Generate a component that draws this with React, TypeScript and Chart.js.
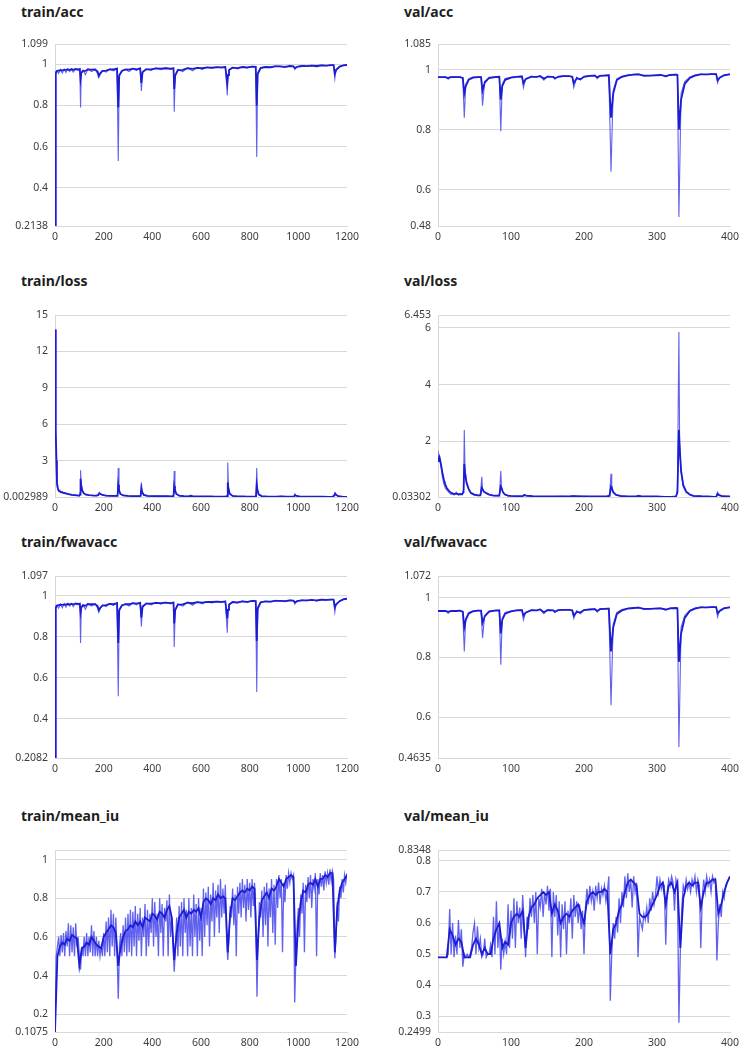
import React, { useEffect, useRef } from "react";
import { Chart, registerables } from "chart.js";

Chart.register(...registerables);

// ---------------- data ----------------
// shared iteration positions for train acc / fwavacc
const trainSteps = [
  0, 2, 4, 8, 15, 22, 30, 38, 45, 52,
  60, 68, 75, 85, 95, 102, 105, 108, 115, 125,
  135, 150, 165, 175, 180, 185, 195, 210, 225, 240,
  255, 260, 264, 275, 290, 305, 320, 335, 350, 355,
  360, 375, 395, 415, 435, 455, 475, 487, 490, 494,
  505, 525, 545, 565, 585, 605, 625, 645, 665, 685,
  700, 708, 711, 715, 730, 750, 770, 790, 810, 825,
  829, 833, 845, 865, 885, 905, 925, 945, 965, 980,
  986, 995, 1015, 1035, 1055, 1075, 1095, 1115, 1135, 1145,
  1150, 1155, 1170, 1185, 1200,
];

const trainAccRaw = [
  0.2138, 0.92, 0.965, 0.97, 0.955, 0.975, 0.958, 0.976, 0.96, 0.978,
  0.965, 0.978, 0.962, 0.98, 0.97, 0.978, 0.79, 0.96, 0.972, 0.95,
  0.978, 0.965, 0.975, 0.955, 0.935, 0.95, 0.97, 0.962, 0.978, 0.968,
  0.98, 0.53, 0.95, 0.97, 0.975, 0.965, 0.98, 0.97, 0.982, 0.87,
  0.965, 0.978, 0.97, 0.982, 0.974, 0.983, 0.975, 0.982, 0.77, 0.95,
  0.975, 0.965, 0.983, 0.968, 0.985, 0.975, 0.986, 0.98, 0.987, 0.982,
  0.988, 0.85, 0.95, 0.975, 0.985, 0.978, 0.988, 0.982, 0.99, 0.988,
  0.55, 0.96, 0.985, 0.988, 0.984, 0.992, 0.99, 0.985, 0.993, 0.99,
  0.975, 0.99, 0.993, 0.99, 0.995, 0.988, 0.996, 0.993, 0.997, 0.996,
  0.93, 0.975, 0.99, 0.996, 0.998,
];
const trainAccSmooth = [
  0.2138, 0.82, 0.955, 0.968, 0.97, 0.972, 0.971, 0.973, 0.973, 0.975,
  0.973, 0.976, 0.974, 0.977, 0.976, 0.977, 0.93, 0.958, 0.968, 0.968,
  0.975, 0.974, 0.975, 0.965, 0.945, 0.955, 0.968, 0.97, 0.976, 0.975,
  0.979, 0.79, 0.945, 0.968, 0.975, 0.974, 0.979, 0.976, 0.98, 0.91,
  0.962, 0.976, 0.976, 0.98, 0.979, 0.981, 0.979, 0.981, 0.88, 0.945,
  0.972, 0.973, 0.981, 0.978, 0.983, 0.981, 0.985, 0.984, 0.986, 0.985,
  0.987, 0.91, 0.948, 0.972, 0.984, 0.982, 0.987, 0.985, 0.989, 0.988,
  0.8, 0.952, 0.982, 0.987, 0.986, 0.99, 0.99, 0.988, 0.992, 0.99,
  0.982, 0.988, 0.992, 0.991, 0.994, 0.992, 0.995, 0.994, 0.996, 0.996,
  0.955, 0.972, 0.989, 0.995, 0.997,
];

const trainFwRaw = [
  0.2082, 0.9, 0.95, 0.955, 0.94, 0.96, 0.942, 0.962, 0.945, 0.963,
  0.95, 0.963, 0.947, 0.965, 0.955, 0.963, 0.77, 0.945, 0.957, 0.935,
  0.963, 0.95, 0.96, 0.94, 0.92, 0.935, 0.955, 0.947, 0.963, 0.953,
  0.966, 0.51, 0.935, 0.955, 0.96, 0.95, 0.966, 0.956, 0.968, 0.85,
  0.95, 0.964, 0.956, 0.968, 0.96, 0.969, 0.961, 0.968, 0.75, 0.935,
  0.96, 0.95, 0.969, 0.954, 0.971, 0.961, 0.972, 0.966, 0.973, 0.968,
  0.974, 0.82, 0.935, 0.96, 0.971, 0.964, 0.974, 0.968, 0.976, 0.974,
  0.53, 0.945, 0.971, 0.974, 0.97, 0.978, 0.976, 0.971, 0.979, 0.976,
  0.96, 0.976, 0.979, 0.976, 0.981, 0.974, 0.982, 0.979, 0.983, 0.982,
  0.92, 0.96, 0.976, 0.984, 0.988,
];
const trainFwSmooth = [
  0.2082, 0.8, 0.94, 0.952, 0.955, 0.957, 0.956, 0.958, 0.957, 0.96,
  0.958, 0.961, 0.959, 0.962, 0.961, 0.962, 0.92, 0.942, 0.954, 0.952,
  0.96, 0.959, 0.96, 0.95, 0.93, 0.94, 0.953, 0.955, 0.961, 0.96,
  0.964, 0.77, 0.93, 0.953, 0.96, 0.959, 0.964, 0.962, 0.966, 0.895,
  0.947, 0.962, 0.962, 0.966, 0.965, 0.967, 0.965, 0.967, 0.865, 0.93,
  0.957, 0.958, 0.967, 0.964, 0.969, 0.967, 0.971, 0.97, 0.972, 0.971,
  0.973, 0.89, 0.932, 0.956, 0.97, 0.968, 0.973, 0.971, 0.975, 0.974,
  0.78, 0.937, 0.968, 0.973, 0.972, 0.976, 0.976, 0.974, 0.978, 0.977,
  0.968, 0.974, 0.978, 0.978, 0.98, 0.978, 0.981, 0.98, 0.982, 0.982,
  0.945, 0.958, 0.974, 0.983, 0.986,
];

// shared epoch positions for val acc / fwavacc
const valSteps = [
  0, 5, 10, 14, 16, 20, 25, 30, 34, 36,
  38, 42, 48, 55, 59, 61, 64, 70, 78, 84,
  86, 88, 92, 100, 108, 115, 117, 120, 128, 135,
  140, 145, 150, 158, 160, 165, 172, 180, 184, 186,
  190, 195, 200, 208, 215, 218, 222, 228, 234, 237,
  240, 245, 252, 260, 268, 275, 282, 290, 298, 305,
  312, 318, 326, 328, 330, 333, 338, 345, 352, 360,
  368, 375, 381, 383, 386, 392, 400,
];

const valAccRaw = [
  0.975, 0.974, 0.976, 0.968, 0.975, 0.976, 0.975, 0.976, 0.97, 0.84,
  0.95, 0.97, 0.975, 0.976, 0.975, 0.88, 0.96, 0.974, 0.976, 0.977,
  0.795, 0.95, 0.97, 0.974, 0.977, 0.978, 0.94, 0.97, 0.978, 0.975,
  0.98, 0.965, 0.978, 0.976, 0.968, 0.978, 0.979, 0.978, 0.975, 0.94,
  0.975, 0.965, 0.978, 0.98, 0.981, 0.97, 0.98, 0.981, 0.982, 0.66,
  0.93, 0.97, 0.978, 0.982, 0.984, 0.985, 0.978, 0.98, 0.982, 0.983,
  0.976, 0.983, 0.984, 0.982, 0.51, 0.92, 0.96, 0.975, 0.982, 0.985,
  0.983, 0.986, 0.985, 0.955, 0.975, 0.983, 0.985,
];
const valAccSmooth = [
  0.975, 0.975, 0.975, 0.972, 0.974, 0.975, 0.975, 0.975, 0.972, 0.92,
  0.945, 0.966, 0.973, 0.975, 0.975, 0.93, 0.957, 0.972, 0.975, 0.976,
  0.9, 0.945, 0.966, 0.973, 0.976, 0.977, 0.955, 0.968, 0.976, 0.976,
  0.978, 0.97, 0.976, 0.976, 0.971, 0.976, 0.978, 0.978, 0.976, 0.955,
  0.971, 0.968, 0.976, 0.979, 0.98, 0.974, 0.979, 0.98, 0.981, 0.84,
  0.92, 0.965, 0.976, 0.981, 0.983, 0.984, 0.98, 0.98, 0.981, 0.982,
  0.978, 0.982, 0.983, 0.982, 0.8, 0.9, 0.952, 0.972, 0.98, 0.984,
  0.984, 0.985, 0.985, 0.965, 0.973, 0.981, 0.984,
];

const valFwRaw = [
  0.955, 0.954, 0.956, 0.947, 0.955, 0.956, 0.955, 0.957, 0.95, 0.82,
  0.93, 0.95, 0.956, 0.957, 0.956, 0.865, 0.94, 0.955, 0.957, 0.958,
  0.775, 0.93, 0.95, 0.955, 0.958, 0.959, 0.925, 0.95, 0.959, 0.956,
  0.961, 0.946, 0.959, 0.957, 0.95, 0.959, 0.96, 0.959, 0.956, 0.93,
  0.956, 0.946, 0.959, 0.961, 0.962, 0.951, 0.962, 0.963, 0.964, 0.64,
  0.91, 0.95, 0.96, 0.964, 0.966, 0.967, 0.96, 0.962, 0.964, 0.965,
  0.958, 0.965, 0.966, 0.964, 0.5, 0.9, 0.94, 0.958, 0.965, 0.968,
  0.966, 0.969, 0.968, 0.935, 0.958, 0.966, 0.968,
];
const valFwSmooth = [
  0.955, 0.955, 0.955, 0.952, 0.954, 0.955, 0.955, 0.956, 0.953, 0.9,
  0.925, 0.946, 0.954, 0.956, 0.956, 0.915, 0.937, 0.953, 0.956, 0.957,
  0.88, 0.925, 0.946, 0.954, 0.957, 0.958, 0.94, 0.949, 0.958, 0.957,
  0.96, 0.951, 0.958, 0.957, 0.953, 0.958, 0.959, 0.959, 0.957, 0.94,
  0.952, 0.95, 0.958, 0.96, 0.961, 0.955, 0.961, 0.962, 0.963, 0.82,
  0.9, 0.945, 0.957, 0.963, 0.965, 0.966, 0.962, 0.962, 0.963, 0.964,
  0.96, 0.964, 0.965, 0.964, 0.785, 0.88, 0.932, 0.955, 0.963, 0.967,
  0.967, 0.968, 0.968, 0.948, 0.955, 0.964, 0.967,
];

// train loss
const trainLossSteps = [
  0, 2, 4, 6, 8, 12, 16, 20, 25, 30,
  35, 40, 45, 50, 55, 60, 70, 80, 90, 100,
  103, 105, 108, 112, 118, 125, 140, 155, 170, 178,
  182, 186, 195, 210, 230, 250, 257, 260, 263, 268,
  280, 300, 320, 340, 352, 355, 358, 365, 380, 400,
  420, 440, 460, 480, 487, 490, 493, 498, 510, 530,
  550, 558, 565, 580, 600, 620, 640, 660, 680, 700,
  707, 710, 713, 718, 730, 750, 770, 790, 810, 826,
  829, 832, 837, 850, 870, 890, 910, 930, 950, 970,
  982, 986, 992, 1005, 1025, 1050, 1075, 1100, 1125, 1140,
  1147, 1151, 1156, 1165, 1180, 1200,
];
const trainLossRaw = [
  13.8, 8.5, 5, 2, 0.9, 0.6, 0.45, 0.55, 0.35, 0.45,
  0.3, 0.38, 0.25, 0.3, 0.2, 0.25, 0.15, 0.18, 0.12, 0.1,
  0.4, 2.2, 0.9, 0.5, 0.3, 0.2, 0.15, 0.12, 0.12, 0.2,
  0.38, 0.25, 0.15, 0.1, 0.09, 0.08, 0.1, 2.4, 0.6, 0.25,
  0.12, 0.08, 0.07, 0.08, 0.1, 1.2, 0.4, 0.15, 0.08, 0.07,
  0.08, 0.06, 0.07, 0.06, 0.1, 2.15, 0.6, 0.25, 0.1, 0.06,
  0.06, 0.15, 0.06, 0.05, 0.05, 0.04, 0.05, 0.04, 0.04, 0.05,
  0.1, 2.85, 0.7, 0.25, 0.08, 0.05, 0.04, 0.04, 0.03, 0.05,
  2.4, 0.6, 0.2, 0.06, 0.04, 0.03, 0.04, 0.06, 0.03, 0.03,
  0.05, 0.25, 0.08, 0.04, 0.03, 0.03, 0.04, 0.02, 0.02, 0.03,
  0.15, 0.35, 0.15, 0.05, 0.02, 0.02,
];
const trainLossSmooth = [
  13.8, 9.5, 5.5, 3, 1.2, 0.7, 0.5, 0.45, 0.4, 0.38,
  0.35, 0.33, 0.3, 0.27, 0.24, 0.22, 0.18, 0.16, 0.14, 0.12,
  0.2, 1.5, 0.95, 0.55, 0.32, 0.22, 0.16, 0.13, 0.12, 0.15,
  0.3, 0.27, 0.17, 0.11, 0.1, 0.09, 0.09, 1, 0.6, 0.27,
  0.13, 0.09, 0.08, 0.08, 0.09, 0.7, 0.42, 0.17, 0.09, 0.08,
  0.07, 0.07, 0.07, 0.06, 0.08, 0.9, 0.6, 0.27, 0.11, 0.07,
  0.06, 0.1, 0.07, 0.06, 0.05, 0.05, 0.05, 0.04, 0.04, 0.04,
  0.08, 1.2, 0.7, 0.27, 0.09, 0.06, 0.05, 0.04, 0.04, 0.04,
  1, 0.6, 0.22, 0.07, 0.05, 0.04, 0.04, 0.05, 0.04, 0.03,
  0.04, 0.15, 0.09, 0.05, 0.04, 0.03, 0.03, 0.03, 0.02, 0.02,
  0.1, 0.28, 0.17, 0.07, 0.03, 0.02,
];

// val loss
const valLossSteps = [
  0, 1, 2, 4, 6, 8, 10, 12, 15, 18,
  20, 22, 25, 28, 30, 33, 35, 36, 37, 39,
  42, 45, 50, 55, 58, 60, 61, 63, 66, 70,
  75, 80, 84, 86, 87, 89, 92, 96, 100, 110,
  116, 118, 121, 130, 140, 150, 160, 170, 180, 185,
  190, 200, 210, 220, 230, 235, 237, 238, 240, 244,
  250, 260, 270, 275, 280, 290, 300, 310, 320, 326,
  328, 330, 331, 333, 336, 340, 345, 350, 360, 363,
  370, 378, 381, 383, 385, 390, 400,
];
const valLossRaw = [
  1.3, 1.55, 1.45, 1.1, 0.75, 0.5, 0.35, 0.28, 0.2, 0.12,
  0.18, 0.1, 0.2, 0.1, 0.15, 0.12, 0.3, 2.4, 1, 0.5,
  0.3, 0.15, 0.1, 0.08, 0.1, 0.75, 0.35, 0.2, 0.18, 0.12,
  0.08, 0.07, 0.08, 0.95, 0.4, 0.2, 0.1, 0.07, 0.06, 0.05,
  0.06, 0.12, 0.07, 0.05, 0.05, 0.05, 0.05, 0.06, 0.05, 0.08,
  0.05, 0.06, 0.05, 0.05, 0.05, 0.1, 0.85, 0.4, 0.2, 0.1,
  0.06, 0.05, 0.05, 0.09, 0.05, 0.05, 0.04, 0.04, 0.05, 0.05,
  0.3, 5.85, 2, 0.9, 0.4, 0.2, 0.1, 0.06, 0.07, 0.05,
  0.04, 0.04, 0.05, 0.2, 0.1, 0.05, 0.04,
];
const valLossSmooth = [
  1.3, 1.4, 1.45, 1.2, 0.9, 0.65, 0.48, 0.35, 0.25, 0.18,
  0.15, 0.14, 0.15, 0.13, 0.13, 0.13, 0.2, 1.2, 0.9, 0.55,
  0.32, 0.18, 0.12, 0.09, 0.09, 0.35, 0.3, 0.22, 0.17, 0.12,
  0.09, 0.08, 0.08, 0.4, 0.35, 0.2, 0.12, 0.08, 0.07, 0.06,
  0.06, 0.1, 0.08, 0.06, 0.05, 0.05, 0.05, 0.05, 0.05, 0.06,
  0.06, 0.05, 0.05, 0.05, 0.05, 0.07, 0.4, 0.35, 0.2, 0.11,
  0.07, 0.05, 0.05, 0.07, 0.05, 0.05, 0.05, 0.04, 0.04, 0.05,
  0.2, 2.4, 1.8, 0.95, 0.45, 0.22, 0.12, 0.07, 0.06, 0.05,
  0.05, 0.04, 0.04, 0.14, 0.1, 0.06, 0.05,
];

// train mean_iu: raw every 5 iterations, smoothed every 10
const trainMiuRawStep = 5;
const trainMiuRaw = [
  0.1075,
  0.5, 0.55, 0.6, 0.5, 0.61, 0.52, 0.62, 0.5, 0.63, 0.55,
  0.67, 0.5, 0.66, 0.52, 0.65, 0.5, 0.67, 0.55, 0.6, 0.5,
  0.43, 0.55, 0.5, 0.6, 0.5, 0.62, 0.5, 0.6, 0.52, 0.66,
  0.5, 0.63, 0.5, 0.6, 0.5, 0.58, 0.5, 0.55, 0.5, 0.62,
  0.5, 0.68, 0.52, 0.7, 0.5, 0.74, 0.55, 0.72, 0.5, 0.7,
  0.52, 0.28, 0.55, 0.62, 0.5, 0.66, 0.52, 0.7, 0.5, 0.72,
  0.52, 0.74, 0.5, 0.73, 0.55, 0.76, 0.5, 0.72, 0.58, 0.75,
  0.5, 0.7, 0.6, 0.77, 0.5, 0.74, 0.55, 0.72, 0.62, 0.8,
  0.55, 0.78, 0.6, 0.72, 0.5, 0.8, 0.62, 0.77, 0.5, 0.75,
  0.68, 0.79, 0.5, 0.82, 0.6, 0.7, 0.55, 0.42, 0.55, 0.7,
  0.5, 0.76, 0.55, 0.78, 0.5, 0.8, 0.62, 0.74, 0.5, 0.8,
  0.55, 0.75, 0.5, 0.82, 0.6, 0.77, 0.5, 0.8, 0.58, 0.75,
  0.5, 0.85, 0.6, 0.83, 0.66, 0.86, 0.55, 0.82, 0.68, 0.88,
  0.6, 0.84, 0.7, 0.87, 0.62, 0.9, 0.7, 0.85, 0.72, 0.87,
  0.6, 0.48, 0.6, 0.76, 0.7, 0.85, 0.66, 0.82, 0.5, 0.86,
  0.72, 0.88, 0.7, 0.9, 0.75, 0.87, 0.68, 0.9, 0.74, 0.88,
  0.7, 0.9, 0.76, 0.88, 0.72, 0.29, 0.6, 0.78, 0.7, 0.84,
  0.6, 0.86, 0.66, 0.88, 0.55, 0.85, 0.7, 0.9, 0.62, 0.87,
  0.56, 0.9, 0.75, 0.92, 0.8, 0.9, 0.52, 0.88, 0.78, 0.92,
  0.85, 0.93, 0.88, 0.93, 0.9, 0.92, 0.26, 0.5, 0.65, 0.75,
  0.6, 0.82, 0.72, 0.88, 0.52, 0.87, 0.78, 0.91, 0.8, 0.92,
  0.75, 0.9, 0.85, 0.93, 0.5, 0.9, 0.82, 0.93, 0.86, 0.92,
  0.84, 0.94, 0.88, 0.93, 0.87, 0.95, 0.89, 0.94, 0.9, 0.49,
  0.6, 0.78, 0.68, 0.86, 0.8, 0.9, 0.83, 0.92, 0.88, 0.93,
];
const trainMiuSmoothStep = 10;
const trainMiuSmooth = [
  0.1075,
  0.5, 0.55, 0.57, 0.56, 0.59, 0.58, 0.61, 0.6, 0.59, 0.45,
  0.54, 0.55, 0.57, 0.56, 0.6, 0.58, 0.56, 0.55, 0.54, 0.6,
  0.62, 0.64, 0.66, 0.65, 0.62, 0.45, 0.55, 0.6, 0.63, 0.64,
  0.66, 0.65, 0.68, 0.66, 0.68, 0.65, 0.7, 0.69, 0.68, 0.72,
  0.71, 0.69, 0.73, 0.72, 0.7, 0.74, 0.76, 0.7, 0.48, 0.62,
  0.7, 0.72, 0.74, 0.7, 0.73, 0.72, 0.74, 0.73, 0.75, 0.7,
  0.78, 0.8, 0.79, 0.77, 0.8, 0.79, 0.82, 0.8, 0.81, 0.8,
  0.52, 0.72, 0.8, 0.79, 0.81, 0.83, 0.84, 0.83, 0.85, 0.84,
  0.86, 0.85, 0.48, 0.7, 0.79, 0.81, 0.83, 0.8, 0.85, 0.84,
  0.86, 0.9, 0.88, 0.86, 0.9, 0.91, 0.92, 0.91, 0.45, 0.68,
  0.78, 0.84, 0.83, 0.87, 0.88, 0.87, 0.9, 0.86, 0.9, 0.9,
  0.92, 0.91, 0.93, 0.93, 0.52, 0.75, 0.84, 0.88, 0.9, 0.92,
];

// val mean_iu: raw every 2 epochs, smoothed every 4
const valMiuRawStep = 2;
const valMiuRaw = [
  0.49, 0.49, 0.49, 0.49, 0.49, 0.49, 0.49, 0.5, 0.645, 0.5,
  0.6, 0.49, 0.56, 0.5, 0.61, 0.52, 0.58, 0.46, 0.5, 0.49,
  0.5, 0.49, 0.5, 0.52, 0.57, 0.6, 0.5, 0.59, 0.52, 0.55,
  0.49, 0.5, 0.55, 0.49, 0.5, 0.5, 0.53, 0.49, 0.62, 0.5,
  0.67, 0.52, 0.6, 0.45, 0.55, 0.5, 0.54, 0.5, 0.66, 0.52,
  0.64, 0.55, 0.68, 0.52, 0.67, 0.6, 0.65, 0.55, 0.69, 0.6,
  0.49, 0.62, 0.58, 0.68, 0.62, 0.69, 0.6, 0.7, 0.5, 0.68,
  0.65, 0.71, 0.62, 0.7, 0.66, 0.72, 0.64, 0.71, 0.49, 0.7,
  0.62, 0.69, 0.56, 0.67, 0.49, 0.66, 0.58, 0.67, 0.5, 0.64,
  0.6, 0.68, 0.55, 0.69, 0.62, 0.67, 0.6, 0.66, 0.58, 0.64,
  0.5, 0.65, 0.71, 0.66, 0.72, 0.67, 0.7, 0.64, 0.72, 0.68,
  0.73, 0.66, 0.71, 0.69, 0.72, 0.67, 0.7, 0.75, 0.35, 0.5,
  0.6, 0.55, 0.62, 0.57, 0.68, 0.6, 0.7, 0.65, 0.75, 0.68,
  0.76, 0.7, 0.74, 0.65, 0.75, 0.7, 0.73, 0.49, 0.62, 0.6,
  0.58, 0.63, 0.61, 0.65, 0.6, 0.68, 0.64, 0.7, 0.66, 0.69,
  0.75, 0.7, 0.74, 0.71, 0.73, 0.72, 0.53, 0.7, 0.74, 0.72,
  0.75, 0.73, 0.64, 0.74, 0.72, 0.28, 0.52, 0.65, 0.72, 0.7,
  0.74, 0.71, 0.73, 0.7, 0.74, 0.72, 0.75, 0.7, 0.74, 0.72,
  0.52, 0.68, 0.74, 0.7, 0.75, 0.72, 0.74, 0.7, 0.75, 0.73,
  0.74, 0.48, 0.6, 0.66, 0.62, 0.7, 0.68, 0.72, 0.73, 0.74,
  0.75,
];
const valMiuSmoothStep = 4;
const valMiuSmooth = [
  0.49, 0.49, 0.49, 0.49, 0.58, 0.56, 0.53, 0.55, 0.54, 0.49,
  0.49, 0.49, 0.53, 0.55, 0.53, 0.5, 0.52, 0.5, 0.5, 0.55,
  0.58, 0.6, 0.52, 0.54, 0.53, 0.6, 0.62, 0.63, 0.62, 0.64,
  0.52, 0.62, 0.65, 0.66, 0.68, 0.69, 0.7, 0.69, 0.7, 0.63,
  0.66, 0.64, 0.6, 0.62, 0.63, 0.62, 0.64, 0.65, 0.66, 0.63,
  0.6, 0.67, 0.69, 0.7, 0.69, 0.7, 0.7, 0.71, 0.7, 0.5,
  0.58, 0.6, 0.64, 0.66, 0.7, 0.73, 0.74, 0.73, 0.72, 0.63,
  0.62, 0.62, 0.63, 0.65, 0.67, 0.69, 0.72, 0.73, 0.66, 0.72,
  0.73, 0.7, 0.73, 0.52, 0.68, 0.72, 0.73, 0.72, 0.73, 0.73,
  0.65, 0.7, 0.73, 0.73, 0.74, 0.74, 0.63, 0.66, 0.7, 0.73,
  0.75,
];

// axis ticks
const trainXTicks = [0, 200, 400, 600, 800, 1000, 1200];
const valXTicks = [0, 100, 200, 300, 400];

const trainAccYTicks = [0.2138, 0.4, 0.6, 0.8, 1, 1.099];
const trainAccYLabels = ["0.2138", "0.4", "0.6", "0.8", "1", "1.099"];
const valAccYTicks = [0.48, 0.6, 0.8, 1, 1.085];
const valAccYLabels = ["0.48", "0.6", "0.8", "1", "1.085"];
const trainLossYTicks = [0.002989, 3, 6, 9, 12, 15];
const trainLossYLabels = ["0.002989", "3", "6", "9", "12", "15"];
const valLossYTicks = [0.03302, 2, 4, 6, 6.453];
const valLossYLabels = ["0.03302", "2", "4", "6", "6.453"];
const trainFwYTicks = [0.2082, 0.4, 0.6, 0.8, 1, 1.097];
const trainFwYLabels = ["0.2082", "0.4", "0.6", "0.8", "1", "1.097"];
const valFwYTicks = [0.4635, 0.6, 0.8, 1, 1.072];
const valFwYLabels = ["0.4635", "0.6", "0.8", "1", "1.072"];
const trainMiuYTicks = [0.1075, 0.2, 0.4, 0.6, 0.8, 1, 1.05];
const trainMiuYLabels = ["0.1075", "0.2", "0.4", "0.6", "0.8", "1", ""];
const valMiuYTicks = [0.2499, 0.3, 0.4, 0.5, 0.6, 0.7, 0.8, 0.8348];
const valMiuYLabels = ["0.2499", "0.3", "0.4", "0.5", "0.6", "0.7", "0.8", "0.8348"];

// ---------------- layout / style ----------------
const FONT = "'Segoe UI', 'Noto Sans', 'Open Sans', sans-serif";
const SMOOTH_COLOR = "#1c1cd3";
const RAW_COLOR = "rgba(52, 52, 236, 0.78)";
const GRID = "#d8d8d8";
const TICK_COLOR = "#3c3c3c";
const TICK_SIZE = 10.5;

const PLOT_W = 292;
const PLOT_H = 182;
const Y_AXIS_W = 55;
const PAD_TOP = 10;
const PAD_RIGHT = 14;
const X_AXIS_H = 22;

const COL_PLOT_LEFT = [55, 438];
const COL_TITLE_LEFT = [21, 404];
const ROW_PLOT_TOP = [44, 315, 576, 850];
const ROW_TITLE_TOP = [4, 273, 534, 808];

const stepXs = (n: number, step: number) => Array.from({ length: n }, (_, i) => i * step);

type PanelDef = {
  title: string;
  col: number;
  row: number;
  rawX: number[];
  raw: number[];
  smoothX: number[];
  smooth: number[];
  xMax: number;
  xTicks: number[];
  yMin: number;
  yMax: number;
  yTicks: number[];
  yLabels: string[];
  rawWidth: number;
};

const panels: PanelDef[] = [
  { title: "train/acc", col: 0, row: 0, rawX: trainSteps, raw: trainAccRaw, smoothX: trainSteps, smooth: trainAccSmooth, xMax: 1200, xTicks: trainXTicks, yMin: 0.2138, yMax: 1.099, yTicks: trainAccYTicks, yLabels: trainAccYLabels, rawWidth: 1.1 },
  { title: "val/acc", col: 1, row: 0, rawX: valSteps, raw: valAccRaw, smoothX: valSteps, smooth: valAccSmooth, xMax: 400, xTicks: valXTicks, yMin: 0.48, yMax: 1.085, yTicks: valAccYTicks, yLabels: valAccYLabels, rawWidth: 1.1 },
  { title: "train/loss", col: 0, row: 1, rawX: trainLossSteps, raw: trainLossRaw, smoothX: trainLossSteps, smooth: trainLossSmooth, xMax: 1200, xTicks: trainXTicks, yMin: 0.002989, yMax: 15, yTicks: trainLossYTicks, yLabels: trainLossYLabels, rawWidth: 1.1 },
  { title: "val/loss", col: 1, row: 1, rawX: valLossSteps, raw: valLossRaw, smoothX: valLossSteps, smooth: valLossSmooth, xMax: 400, xTicks: valXTicks, yMin: 0.03302, yMax: 6.453, yTicks: valLossYTicks, yLabels: valLossYLabels, rawWidth: 1.1 },
  { title: "train/fwavacc", col: 0, row: 2, rawX: trainSteps, raw: trainFwRaw, smoothX: trainSteps, smooth: trainFwSmooth, xMax: 1200, xTicks: trainXTicks, yMin: 0.2082, yMax: 1.097, yTicks: trainFwYTicks, yLabels: trainFwYLabels, rawWidth: 1.1 },
  { title: "val/fwavacc", col: 1, row: 2, rawX: valSteps, raw: valFwRaw, smoothX: valSteps, smooth: valFwSmooth, xMax: 400, xTicks: valXTicks, yMin: 0.4635, yMax: 1.072, yTicks: valFwYTicks, yLabels: valFwYLabels, rawWidth: 1.1 },
  { title: "train/mean_iu", col: 0, row: 3, rawX: stepXs(trainMiuRaw.length, trainMiuRawStep), raw: trainMiuRaw, smoothX: stepXs(trainMiuSmooth.length, trainMiuSmoothStep), smooth: trainMiuSmooth, xMax: 1200, xTicks: trainXTicks, yMin: 0.1075, yMax: 1.05, yTicks: trainMiuYTicks, yLabels: trainMiuYLabels, rawWidth: 1.3 },
  { title: "val/mean_iu", col: 1, row: 3, rawX: stepXs(valMiuRaw.length, valMiuRawStep), raw: valMiuRaw, smoothX: stepXs(valMiuSmooth.length, valMiuSmoothStep), smooth: valMiuSmooth, xMax: 400, xTicks: valXTicks, yMin: 0.2499, yMax: 0.8348, yTicks: valMiuYTicks, yLabels: valMiuYLabels, rawWidth: 1.3 },
];

function ChartPanel({ def }: { def: PanelDef }) {
  const ref = useRef<HTMLCanvasElement | null>(null);
  const canvasW = Y_AXIS_W + PLOT_W + PAD_RIGHT;
  const canvasH = PAD_TOP + PLOT_H + X_AXIS_H;
  const left = COL_PLOT_LEFT[def.col] - Y_AXIS_W;
  const top = ROW_PLOT_TOP[def.row] - PAD_TOP;

  useEffect(() => {
    if (!ref.current) return;
    const tickFont = { family: FONT, size: TICK_SIZE };
    const chart = new Chart(ref.current, {
      type: "line",
      data: {
        datasets: [
          {
            label: "smoothed",
            data: def.smoothX.map((x, i) => ({ x, y: def.smooth[i] })),
            borderColor: SMOOTH_COLOR,
            borderWidth: 1.8,
            pointRadius: 0,
            tension: 0,
            fill: false,
          },
          {
            label: "raw",
            data: def.rawX.map((x, i) => ({ x, y: def.raw[i] })),
            borderColor: RAW_COLOR,
            borderWidth: def.rawWidth,
            pointRadius: 0,
            tension: 0,
            fill: false,
          },
        ],
      },
      options: {
        responsive: false,
        animation: false,
        events: [],
        layout: { padding: { top: PAD_TOP, right: PAD_RIGHT, bottom: 0, left: 0 } },
        plugins: {
          legend: { display: false },
          tooltip: { enabled: false },
          title: { display: false },
        },
        scales: {
          x: {
            type: "linear",
            min: 0,
            max: def.xMax,
            grid: { display: false, drawTicks: false },
            border: { display: true, color: GRID },
            ticks: {
              font: tickFont,
              color: TICK_COLOR,
              padding: 5,
              maxRotation: 0,
              autoSkip: false,
              callback: (v: any) => String(v),
            },
            afterBuildTicks: (s: any) => {
              s.ticks = def.xTicks.map((v) => ({ value: v }));
            },
            afterFit: (s: any) => {
              s.height = X_AXIS_H;
              s.paddingLeft = 0;
              s.paddingRight = 0;
              s.paddingTop = 0;
              s.paddingBottom = 0;
            },
          },
          y: {
            type: "linear",
            min: def.yMin,
            max: def.yMax,
            grid: { color: GRID, drawTicks: false },
            border: { display: true, color: GRID },
            ticks: {
              font: tickFont,
              color: TICK_COLOR,
              padding: 7,
              autoSkip: false,
              callback: (_v: any, i: number) => def.yLabels[i] ?? "",
            },
            afterBuildTicks: (s: any) => {
              s.ticks = def.yTicks.map((v) => ({ value: v }));
            },
            afterFit: (s: any) => {
              s.width = Y_AXIS_W;
              s.paddingLeft = 0;
              s.paddingRight = 0;
              s.paddingTop = 0;
              s.paddingBottom = 0;
            },
          },
        },
      } as any,
    });
    return () => chart.destroy();
  }, [def]);

  return (
    <>
      <div
        style={{
          position: "absolute",
          left: COL_TITLE_LEFT[def.col],
          top: ROW_TITLE_TOP[def.row],
          font: `bold 14px ${FONT}`,
          lineHeight: "16px",
          color: "#1e1e1e",
          whiteSpace: "nowrap",
        }}
      >
        {def.title}
      </div>
      <canvas
        ref={ref}
        width={canvasW}
        height={canvasH}
        style={{ position: "absolute", left, top, width: canvasW, height: canvasH }}
      />
    </>
  );
}

export default function App() {
  return (
    <div
      style={{
        position: "absolute",
        left: 0,
        top: 0,
        width: 744,
        height: 1051,
        overflow: "hidden",
        background: "#fff",
      }}
    >
      {panels.map((p) => (
        <ChartPanel key={p.title} def={p} />
      ))}
    </div>
  );
}
